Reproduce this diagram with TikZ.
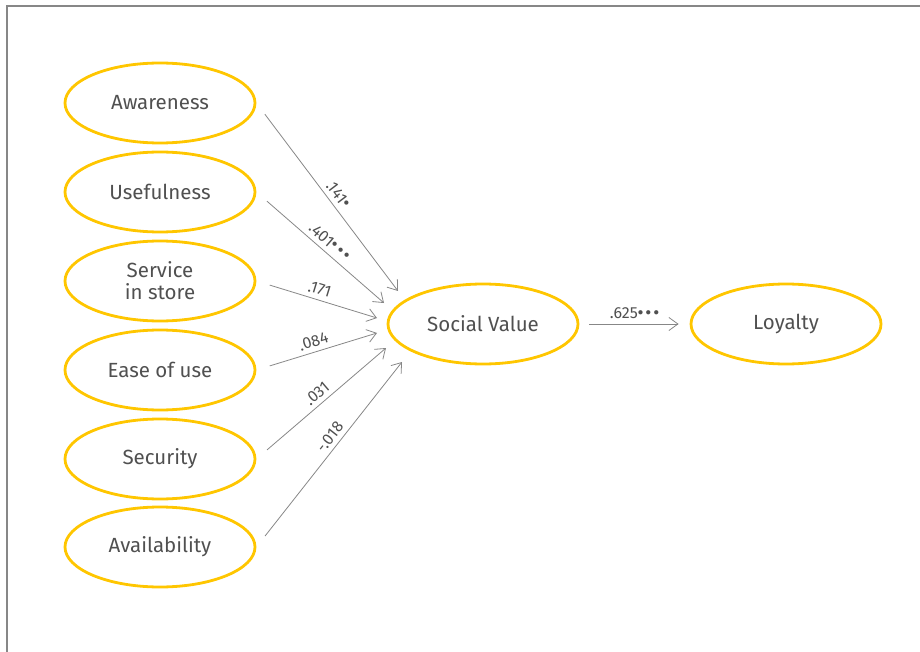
\documentclass[tikz,border=0pt]{standalone}
\usepackage{fontspec}
\setmainfont{Fira Sans}
\usepackage{tikz}
\usetikzlibrary{shapes.geometric,arrows.meta}

\definecolor{gold}{RGB}{255,198,0}
\definecolor{txtgray}{RGB}{80,80,80}
\definecolor{linegray}{RGB}{135,135,135}
\newcommand{\stars}[1]{\raisebox{0.45ex}{\fontsize{11}{11}\selectfont$#1$}}

\tikzset{
  construct/.style={ellipse,draw=gold,line width=2.8pt,minimum width=190pt,minimum height=80pt,
    inner sep=0pt,align=center,text=txtgray,font=\fontsize{20.5}{22}\selectfont},
  path/.style={draw=linegray,line width=0.8pt,-{Straight Barb[length=9pt,width=13pt]}},
  coef/.style={sloped,above,inner sep=4.5pt,text=txtgray,font=\fontsize{16}{17}\selectfont}
}

\begin{document}
\begin{tikzpicture}[x=1pt,y=-1pt]
\useasboundingbox (0,0) rectangle (920,652);
% Frame
\draw[linegray,line width=1.2pt] (7,652) -- (7,6) -- (920,6);

% Antecedents
\node[construct] (aw) at (160,103) {Awareness};
\node[construct] (us) at (160,192) {Usefulness};
\node[construct] (se) at (160,281) {Service\\in store};
\node[construct] (ea) at (160,370) {Ease of use};
\node[construct] (sc) at (160,459) {Security};
\node[construct] (av) at (160,547) {Availability};

% Mediator and outcome
\node[construct] (sv) at (483,324) {Social Value};
\node[construct] (lo) at (786,324) {Loyalty};

% Arrow targets
\coordinate (t1) at (398,291);
\coordinate (t2) at (384,303);
\coordinate (t3) at (377,318);
\coordinate (t4) at (377,333);
\coordinate (t5) at (386,348);
\coordinate (t6) at (402,362);

% Paths
\draw[path,shorten <=14pt] (aw.east) -- node[coef,pos=0.52] {.141\stars{\bullet}} (t1);
\draw[path,shorten <=14pt] (us.east) -- node[coef,pos=0.52] {.401\stars{\bullet\bullet\bullet}} (t2);
\draw[path,shorten <=14pt] (se.east) -- node[coef,pos=0.5] {.171} (t3);
\draw[path,shorten <=14pt] (ea.east) -- node[coef,pos=0.5] {.084} (t4);
\draw[path,shorten <=14pt] (sc.east) -- node[coef,pos=0.52] {.031} (t5);
\draw[path,shorten <=14pt] (av.east) -- node[coef,pos=0.56] {-.018} (t6);
\draw[path,shorten <=10pt,shorten >=11pt] (sv.east) -- node[coef] {.625\stars{\bullet\bullet\bullet}} (lo.west);
\end{tikzpicture}
\end{document}
